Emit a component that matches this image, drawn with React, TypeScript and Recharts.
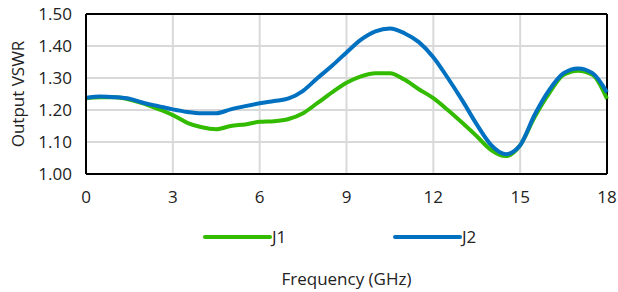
import React from "react";
import {
  LineChart,
  Line,
  XAxis,
  YAxis,
  CartesianGrid,
  Legend,
  ReferenceLine,
} from "recharts";

const frequencies = [
  0, 0.5, 1, 1.5, 2, 2.5, 3, 3.5, 4, 4.5, 5, 5.5, 6, 6.5, 7, 7.5, 8, 8.5, 9,
  9.5, 10, 10.5, 11, 11.5, 12, 12.5, 13, 13.5, 14, 14.5, 15, 15.5, 16, 16.5,
  17, 17.5, 18,
];

const j1Values = [
  1.237, 1.24, 1.24, 1.233, 1.22, 1.203, 1.184, 1.16, 1.146, 1.14, 1.15,
  1.155, 1.163, 1.165, 1.172, 1.19, 1.222, 1.255, 1.285, 1.305, 1.315, 1.315,
  1.295, 1.265, 1.237, 1.2, 1.16, 1.118, 1.075, 1.056, 1.09, 1.178, 1.252,
  1.31, 1.323, 1.31, 1.235,
];

const j2Values = [
  1.238, 1.242, 1.24, 1.235, 1.222, 1.212, 1.202, 1.194, 1.19, 1.19, 1.202,
  1.212, 1.221, 1.228, 1.236, 1.26, 1.3, 1.338, 1.38, 1.42, 1.446, 1.455,
  1.44, 1.412, 1.365, 1.3, 1.23, 1.155, 1.09, 1.062, 1.09, 1.185, 1.262,
  1.315, 1.33, 1.315, 1.255,
];

const xTicks = [0, 3, 6, 9, 12, 15, 18];
const yTicks = [1.0, 1.1, 1.2, 1.3, 1.4, 1.5];

const series = [
  { key: "J1", color: "#33bb00" },
  { key: "J2", color: "#0070c0" },
];

const data = frequencies.map((f, i) => ({
  freq: f,
  J1: j1Values[i],
  J2: j2Values[i],
}));

const FONT = "'Open Sans', 'Noto Sans', sans-serif";

// legend drawn as two long line swatches
const LegendContent = () => (
  <div style={{ display: "flex", paddingLeft: 203, fontFamily: FONT }}>
    {series.map((s) => (
      <div
        key={s.key}
        style={{ display: "flex", alignItems: "center", width: 190 }}
      >
        <svg width={69} height={10}>
          <line
            x1={2}
            y1={5}
            x2={67}
            y2={5}
            stroke={s.color}
            strokeWidth={4}
            strokeLinecap="round"
          />
        </svg>
        <span style={{ fontSize: 17, color: "#222" }}>{s.key}</span>
      </div>
    ))}
  </div>
);

export default function App() {
  return (
    <div style={{ position: "absolute", left: 0, top: 0, background: "#fff" }}>
      <LineChart
        width={618}
        height={292}
        data={data}
        margin={{ top: 14, right: 11, left: 0, bottom: 0 }}
        style={{ fontFamily: FONT }}
      >
        <CartesianGrid stroke="#d9d9d9" strokeWidth={2} />
        <XAxis
          dataKey="freq"
          type="number"
          domain={[0, 18]}
          ticks={xTicks}
          height={118}
          tickLine={false}
          axisLine={{ stroke: "#000", strokeWidth: 2 }}
          tickSize={0}
          tickMargin={17}
          tick={{ fontSize: 17, fill: "#222" }}
          label={{
            value: "Frequency (GHz)",
            position: "insideBottom",
            offset: 7,
            style: { fontSize: 17, fill: "#222" },
          }}
        />
        <YAxis
          type="number"
          domain={[1.0, 1.5]}
          ticks={yTicks}
          width={86}
          tickLine={false}
          axisLine={{ stroke: "#000", strokeWidth: 2 }}
          tickSize={0}
          tickMargin={14}
          tickFormatter={(v: number) => v.toFixed(2)}
          tick={{ fontSize: 17, fill: "#222" }}
          label={{
            value: "Output VSWR",
            angle: -90,
            position: "insideLeft",
            offset: 18,
            style: { textAnchor: "middle", fontSize: 17, fill: "#222" },
          }}
        />
        <ReferenceLine y={1.5} stroke="#000" strokeWidth={2} />
        <ReferenceLine x={18} stroke="#000" strokeWidth={2} />
        <Legend
          layout="horizontal"
          verticalAlign="middle"
          align="center"
          content={<LegendContent />}
          wrapperStyle={{ top: 225, left: 0, width: 618 }}
        />
        {series.map((s) => (
          <Line
            key={s.key}
            type="monotone"
            dataKey={s.key}
            stroke={s.color}
            strokeWidth={4}
            dot={false}
            isAnimationActive={false}
          />
        ))}
      </LineChart>
    </div>
  );
}
